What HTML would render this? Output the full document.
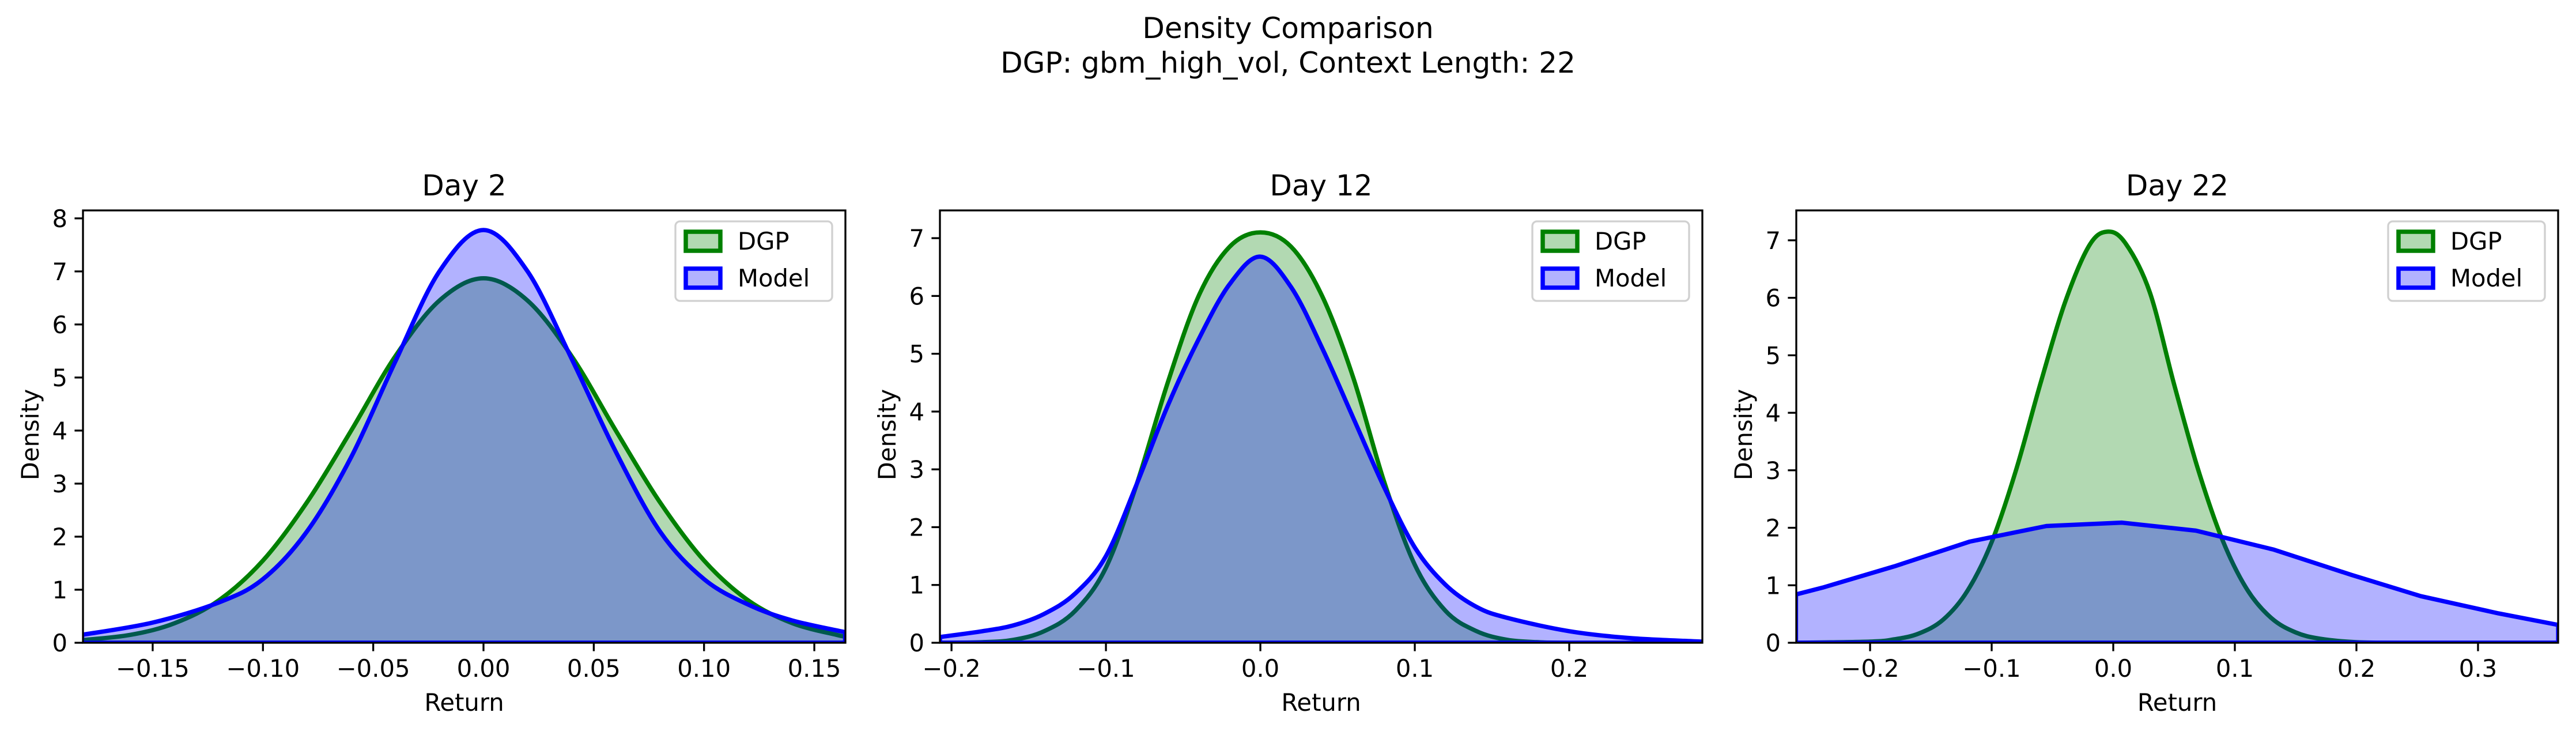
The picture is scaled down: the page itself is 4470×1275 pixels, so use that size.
<!DOCTYPE html>
<html><head><meta charset="utf-8"><style>
html,body{margin:0;padding:0;background:#fff;}
svg{display:block;font-family:"DejaVu Sans","Liberation Sans",sans-serif;}
</style></head><body>
<svg id="fig" width="4470" height="1275" viewBox="0 0 4470 1275">
<text x="2235" y="66" text-anchor="middle" font-size="50">Density Comparison</text>
<text x="2235" y="126" text-anchor="middle" font-size="50">DGP: gbm_high_vol, Context Length: 22</text>
</svg>
<script>
// ---- Day 2 data ----
const day2DgpX = [-0.182,-0.16,-0.14,-0.12,-0.10,-0.08,-0.06,-0.04,-0.02,0.0,0.02,0.04,0.06,0.08,0.10,0.12,0.14,0.16,0.164];
const day2DgpY = [0.05,0.15,0.37,0.80,1.55,2.65,4.0,5.4,6.45,6.87,6.45,5.4,4.0,2.65,1.55,0.8,0.37,0.15,0.12];
const day2ModelX = [-0.182,-0.15,-0.12,-0.10,-0.08,-0.06,-0.04,-0.02,0.0,0.02,0.04,0.06,0.08,0.10,0.12,0.14,0.164];
const day2ModelY = [0.15,0.38,0.76,1.2,2.1,3.5,5.3,7.0,7.78,7.0,5.35,3.6,2.1,1.2,0.72,0.42,0.2];
const day2XTicks = [-0.15,-0.10,-0.05,0.00,0.05,0.10,0.15];
const day2XTickLabels = ["\u22120.15","\u22120.10","\u22120.05","0.00","0.05","0.10","0.15"];
const day2YTicks = [0,1,2,3,4,5,6,7,8];
// ---- Day 12 data ----
const day12DgpX = [-0.2075,-0.18,-0.16,-0.14,-0.12,-0.10,-0.08,-0.06,-0.04,-0.02,0.0,0.02,0.04,0.06,0.08,0.10,0.12,0.14,0.16,0.18,0.20,0.286];
const day12DgpY = [0.0,0.01,0.05,0.2,0.55,1.3,2.75,4.5,6.0,6.85,7.1,6.85,6.0,4.6,2.8,1.35,0.55,0.2,0.05,0.01,0.0,0.0];
const day12ModelX = [-0.2075,-0.18,-0.16,-0.14,-0.12,-0.10,-0.08,-0.06,-0.04,-0.02,0.0,0.02,0.04,0.06,0.08,0.10,0.12,0.14,0.16,0.20,0.24,0.286];
const day12ModelY = [0.1,0.2,0.3,0.5,0.85,1.5,2.75,4.1,5.25,6.2,6.68,6.15,5.1,3.9,2.7,1.65,1.0,0.62,0.43,0.2,0.08,0.02];
const day12XTicks = [-0.2,-0.1,0.0,0.1,0.2];
const day12XTickLabels = ["\u22120.2","\u22120.1","0.0","0.1","0.2"];
const day12YTicks = [0,1,2,3,4,5,6,7];
// ---- Day 22 data ----
const day22DgpX = [-0.261,-0.2,-0.18,-0.16,-0.14,-0.12,-0.10,-0.08,-0.06,-0.04,-0.02,-0.005,0.01,0.03,0.05,0.07,0.09,0.11,0.13,0.15,0.17,0.2,0.24,0.366];
const day22DgpY = [0.0,0.02,0.06,0.16,0.4,0.9,1.75,3.0,4.5,5.9,6.9,7.15,6.95,6.1,4.5,3.0,1.78,0.93,0.43,0.18,0.07,0.01,0.0,0.0];
const day22ModelX = [-0.261,-0.239,-0.18,-0.118,-0.055,0.007,0.068,0.132,0.196,0.253,0.317,0.366];
const day22ModelY = [0.84,0.96,1.33,1.76,2.03,2.09,1.95,1.62,1.18,0.81,0.51,0.31];
const day22XTicks = [-0.2,-0.1,0.0,0.1,0.2,0.3];
const day22XTickLabels = ["\u22120.2","\u22120.1","0.0","0.1","0.2","0.3"];
const day22YTicks = [0,1,2,3,4,5,6,7];

const NS = "http://www.w3.org/2000/svg";
const fig = document.getElementById('fig');
function mk(tag, attrs, parent){
  const e = document.createElementNS(NS, tag);
  for (const k in attrs) e.setAttribute(k, attrs[k]);
  (parent||fig).appendChild(e);
  return e;
}

const panels = [
  {key:'day2', title:'Day 2', left:144, right:1467, top:365, bottom:1115, xmin:-0.1816, xmax:0.1641, ymax:8.15,
   dx:day2DgpX, dy:day2DgpY, mx:day2ModelX, my:day2ModelY, xt:day2XTicks, xl:day2XTickLabels, yt:day2YTicks, ylabX:53, msmooth:true},
  {key:'day12', title:'Day 12', left:1631, right:2954, top:365, bottom:1115, xmin:-0.2075, xmax:0.2862, ymax:7.48,
   dx:day12DgpX, dy:day12DgpY, mx:day12ModelX, my:day12ModelY, xt:day12XTicks, xl:day12XTickLabels, yt:day12YTicks, ylabX:1540, msmooth:true},
  {key:'day22', title:'Day 22', left:3117, right:4439, top:365, bottom:1115, xmin:-0.2607, xmax:0.3659, ymax:7.52,
   dx:day22DgpX, dy:day22DgpY, mx:day22ModelX, my:day22ModelY, xt:day22XTicks, xl:day22XTickLabels, yt:day22YTicks, ylabX:3026, msmooth:false}
];

function curvePath(pts, smooth){
  let d = '';
  if (!smooth) {
    pts.forEach(p => { d += ' L' + p[0].toFixed(1) + ',' + p[1].toFixed(1); });
    return d;
  }
  d += ' L' + pts[0][0].toFixed(1) + ',' + pts[0][1].toFixed(1);
  for (let i = 0; i < pts.length - 1; i++) {
    const p0 = pts[Math.max(0, i-1)], p1 = pts[i], p2 = pts[i+1], p3 = pts[Math.min(pts.length-1, i+2)];
    const c1x = p1[0] + (p2[0]-p0[0])/6, c1y = p1[1] + (p2[1]-p0[1])/6;
    const c2x = p2[0] - (p3[0]-p1[0])/6, c2y = p2[1] - (p3[1]-p1[1])/6;
    d += ' C' + c1x.toFixed(1) + ',' + c1y.toFixed(1) + ' ' + c2x.toFixed(1) + ',' + c2y.toFixed(1) + ' ' + p2[0].toFixed(1) + ',' + p2[1].toFixed(1);
  }
  return d;
}

panels.forEach(p => {
  const sx = v => p.left + (v - p.xmin) / (p.xmax - p.xmin) * (p.right - p.left);
  const sy = v => p.bottom - v / p.ymax * (p.bottom - p.top);
  const g = mk('g', {});
  
  
  const cid = 'clip-' + p.key;
  const cp = mk('clipPath', {id: cid}, g);
  mk('rect', {x:p.left, y:p.top, width:p.right-p.left, height:p.bottom-p.top}, cp);
  const plot = mk('g', {'clip-path':'url(#'+cid+')'}, g);
  function series(xs, ys, color, name, smooth){
    const pts = xs.map((x, i) => [sx(x), sy(ys[i])]);
    let d = 'M' + sx(xs[0]).toFixed(1) + ',' + sy(0).toFixed(1);
    d += curvePath(pts, smooth);
    d += ' L' + sx(xs[xs.length-1]).toFixed(1) + ',' + sy(0).toFixed(1) + ' Z';
    const a = mk('path', {d:d, fill:color, 'fill-opacity':0.3, stroke:color, 'stroke-width':7.5, 'stroke-linejoin':'round'}, plot);
    
    
  }
  series(p.dx, p.dy, '#008000', 'dgp', true);
  series(p.mx, p.my, '#0000ff', 'model', p.msmooth);
  const frame = mk('rect', {x:p.left, y:p.top, width:p.right-p.left, height:p.bottom-p.top, fill:'none', stroke:'#000', 'stroke-width':3.3}, g);
  
  
  p.xt.forEach((v, i) => {
    const x = sx(v);
    mk('line', {x1:x, x2:x, y1:p.bottom, y2:p.bottom+14.6, stroke:'#000', 'stroke-width':3.3}, g);
    const t = mk('text', {x:x, y:p.bottom+59, 'text-anchor':'middle', 'font-size':41.7}, g);
    t.textContent = p.xl[i];
    
    
  });
  p.yt.forEach(v => {
    const y = sy(v);
    mk('line', {x1:p.left-14.6, x2:p.left, y1:y, y2:y, stroke:'#000', 'stroke-width':3.3}, g);
    const t = mk('text', {x:p.left-27, y:y+15, 'text-anchor':'end', 'font-size':41.7}, g);
    t.textContent = String(v);
    
    
  });
  const cx = (p.left + p.right) / 2;
  const tt = mk('text', {x:cx, y:p.top-26, 'text-anchor':'middle', 'font-size':50}, g);
  tt.textContent = p.title;
  
  
  const xl = mk('text', {x:cx, y:1233, 'text-anchor':'middle', 'font-size':41.7}, g);
  xl.textContent = 'Return';
  
  
  const ym = (p.top + p.bottom) / 2;
  const yl = mk('text', {x:p.ylabX, y:ym, 'text-anchor':'middle', 'font-size':41.7, transform:'rotate(-90 '+(p.ylabX+14)+' '+ym+')'}, g);
  yl.textContent = 'Density';
  
  
  // legend
  const lr = p.right - 23, lw = 272, lx = lr - lw, ly = 384;
  const lg = mk('g', {}, g);
  
  
  mk('rect', {x:lx, y:ly, width:lw, height:138, rx:8, fill:'#fff', 'fill-opacity':0.8, stroke:'#d0d0d0', 'stroke-width':3.3}, lg);
  [['DGP','#008000',402],['Model','#0000ff',466]].forEach(([lab, col, yy]) => {
    const e = mk('g', {}, lg);
    
    
    mk('rect', {x:lx+18, y:yy, width:60, height:33, fill:'#fff', stroke:'none'}, e);
    mk('rect', {x:lx+18, y:yy, width:60, height:33, fill:col, 'fill-opacity':0.3, stroke:col, 'stroke-width':7.5}, e);
    const t = mk('text', {x:lx+108, y:yy+31, 'font-size':41.7}, e);
    t.textContent = lab;
  });
});
</script>
</body></html>
